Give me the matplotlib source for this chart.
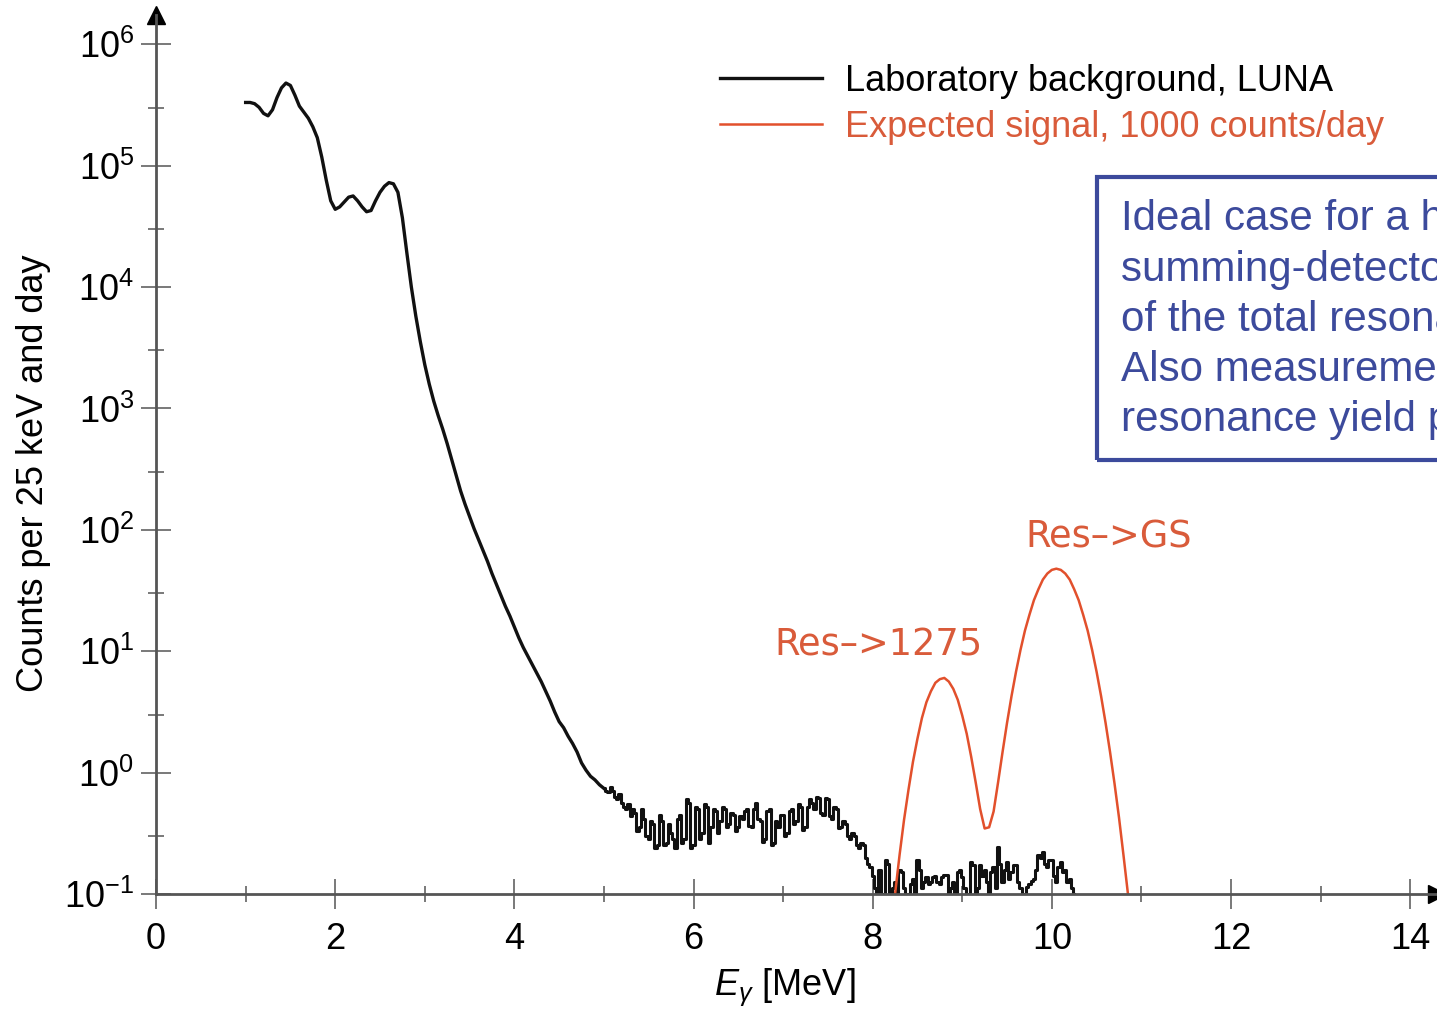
import numpy as np
import matplotlib
matplotlib.use('Agg')
import matplotlib.pyplot as plt
from matplotlib.patches import Rectangle
from matplotlib.ticker import FixedLocator, FuncFormatter

plt.rcParams['font.family'] = ['Liberation Sans', 'DejaVu Sans']
plt.rcParams['mathtext.fontset'] = 'custom'
plt.rcParams['mathtext.rm'] = 'Liberation Sans'
plt.rcParams['mathtext.it'] = 'Liberation Sans:italic'

# laboratory background, log10(counts), smooth part 1.00 .. 5.00 MeV, 50 keV steps
bg_smooth_start = 1.0
bg_smooth_step = 0.05
bg_log_smooth = [
    5.52, 5.52, 5.51, 5.48, 5.43, 5.41, 5.46, 5.56, 5.64, 5.68,
    5.66, 5.58, 5.49, 5.44, 5.39, 5.32, 5.23, 5.07, 4.88, 4.71,
    4.64, 4.66, 4.70, 4.74, 4.75, 4.71, 4.66, 4.62, 4.63, 4.71,
    4.78, 4.83, 4.86, 4.85, 4.78, 4.57, 4.28, 4.00, 3.76, 3.55,
    3.36, 3.20, 3.06, 2.94, 2.83, 2.71, 2.58, 2.45, 2.32, 2.21,
    2.11, 2.01, 1.92, 1.83, 1.74, 1.64, 1.55, 1.46, 1.37, 1.29,
    1.20, 1.11, 1.03, 0.96, 0.89, 0.82, 0.75, 0.67, 0.59, 0.50,
    0.42, 0.37, 0.30, 0.24, 0.17, 0.08, 0.02, -0.03, -0.06, -0.10,
    -0.13,
]

# noisy part 5.000 .. 10.250 MeV, 25 keV bins (-1 = empty bin)
bg_noisy_start = 5.0
bg_noisy_step = 0.025
bg_log_noisy = [
    -0.13, -0.15, -0.16, -0.12, -0.15, -0.20, -0.22, -0.18, -0.25, -0.28,
    -0.30, -0.26, -0.36, -0.30, -0.33, -0.48, -0.45, -0.30, -0.38, -0.52,
    -0.55, -0.40, -0.42, -0.62, -0.60, -0.35, -0.40, -0.60, -0.58, -0.42,
    -0.50, -0.55, -0.62, -0.38, -0.35, -0.58, -0.55, -0.22, -0.25, -0.62,
    -0.60, -0.28, -0.30, -0.55, -0.50, -0.26, -0.28, -0.58, -0.45, -0.30,
    -0.32, -0.50, -0.40, -0.28, -0.30, -0.45, -0.42, -0.33, -0.35, -0.48,
    -0.45, -0.36, -0.38, -0.32, -0.30, -0.44, -0.45, -0.30, -0.25, -0.38,
    -0.40, -0.57, -0.55, -0.32, -0.30, -0.60, -0.58, -0.40, -0.45, -0.35,
    -0.35, -0.52, -0.50, -0.32, -0.30, -0.42, -0.40, -0.26, -0.28, -0.47,
    -0.45, -0.28, -0.22, -0.25, -0.30, -0.20, -0.21, -0.33, -0.35, -0.21,
    -0.22, -0.36, -0.38, -0.28, -0.30, -0.46, -0.45, -0.40, -0.42, -0.52,
    -0.55, -0.50, -0.52, -0.60, -0.62, -0.58, -0.60, -0.70, -0.75, -0.78,
    -0.85, -0.95, -1.00, -0.80, -1.00, -1.00, -0.72, -0.75, -1.00, -0.95,
    -0.90, -1.00, -0.80, -0.82, -0.95, -1.00, -1.00, -0.92, -0.88, -1.00,
    -0.72, -0.80, -0.95, -0.90, -0.86, -0.92, -0.90, -0.86, -0.85, -0.90,
    -0.92, -0.86, -0.84, -0.84, -1.00, -0.95, -0.90, -1.00, -0.82, -0.80,
    -0.86, -0.95, -1.00, -1.00, -0.74, -0.76, -1.00, -0.95, -0.76, -0.85,
    -0.80, -0.90, -1.00, -0.82, -0.78, -0.95, -0.61, -0.75, -0.90, -0.80,
    -0.74, -0.88, -0.82, -0.76, -0.76, -0.90, -0.95, -1.00, -1.00, -0.94,
    -0.92, -0.89, -0.88, -0.80, -0.68, -0.70, -0.65, -0.75, -0.78, -0.72,
    -0.72, -0.85, -0.90, -0.78, -0.74, -0.82, -0.80, -0.90, -0.88, -0.95,
    -1.00,
]

# expected signal, log10(counts), 8.25 .. 10.85 MeV, 50 keV steps
sig_start = 8.25
sig_step = 0.05
sig_log = [
    -1.00, -0.68, -0.39, -0.14, 0.09, 0.28, 0.45, 0.58, 0.67, 0.74,
    0.77, 0.78, 0.75, 0.69, 0.60, 0.47, 0.32, 0.13, -0.08, -0.30,
    -0.46, -0.45, -0.32, -0.08, 0.17, 0.41, 0.63, 0.83, 1.01, 1.17,
    1.30, 1.42, 1.51, 1.59, 1.64, 1.67, 1.68, 1.67, 1.64, 1.59,
    1.51, 1.42, 1.30, 1.17, 1.01, 0.83, 0.63, 0.41, 0.17, -0.09,
    -0.37, -0.68, -1.00,
]

e_smooth = bg_smooth_start + bg_smooth_step * np.arange(len(bg_log_smooth))
e_noisy = bg_noisy_start + bg_noisy_step * np.arange(len(bg_log_noisy))
e_sig = sig_start + sig_step * np.arange(len(sig_log))

black = '#111111'
red = '#e2502c'
red_txt = '#d95b3a'
blue = '#3c4a9c'
axis_col = '#555555'

fig = plt.figure(figsize=(14.37, 10.17), dpi=100)
ax = fig.add_axes([0.1086, 0.1209, 0.8914, 0.8643])

h1, = ax.plot(e_smooth, 10 ** np.array(bg_log_smooth), color=black, lw=2.4,
              label='Laboratory background, LUNA')
ax.step(e_noisy, 10 ** np.array(bg_log_noisy), where='mid', color=black, lw=2.2)
h2, = ax.plot(e_sig, 10 ** np.array(sig_log), color=red, lw=1.8,
              label='Expected signal, 1000 counts/day')

ax.set_yscale('log')
ax.set_xlim(0, 14.3)
ax.set_ylim(0.1, 10 ** 6.24)

for s in ['top', 'right']:
    ax.spines[s].set_visible(False)
for s in ['left', 'bottom']:
    ax.spines[s].set_color(axis_col)
    ax.spines[s].set_linewidth(2)

ax.xaxis.set_major_locator(FixedLocator(np.arange(0, 15, 2)))
ax.xaxis.set_minor_locator(FixedLocator(np.arange(1, 15, 2)))
ax.yaxis.set_major_locator(FixedLocator([10.0 ** k for k in range(-1, 7)]))
ax.yaxis.set_minor_locator(FixedLocator([3 * 10.0 ** k for k in range(-1, 6)]))
ax.yaxis.set_major_formatter(FuncFormatter(
    lambda v, p: r'$\mathregular{10^{%d}}$' % round(np.log10(v))))
ax.yaxis.set_minor_formatter(FuncFormatter(lambda v, p: ''))

ax.tick_params(which='major', direction='inout', length=21.6, width=1.1,
               color=axis_col, labelsize=26)
ax.tick_params(axis='x', which='major', pad=9)
ax.tick_params(axis='y', which='major', pad=5)
ax.tick_params(which='minor', direction='inout', length=11.5, width=1.1,
               color=axis_col)

# axis arrows
ax.plot([0], [1], marker='^', ms=13, color='black', transform=ax.transAxes, clip_on=False)
ax.plot([1], [0], marker='>', ms=13, color='black', transform=ax.transAxes, clip_on=False)

ax.set_ylabel('Counts per 25 keV and day', fontsize=26)
ax.yaxis.set_label_coords(-0.082, 0.479)
ax.set_xlabel(r'$\mathit{E}_{\gamma}$ [MeV]', fontsize=26)
ax.xaxis.set_label_coords(0.491, -0.083)

leg = ax.legend(handles=[h1, h2], loc='upper left',
                bbox_to_anchor=(720 / 1437, 1 - 64 / 1017), bbox_transform=fig.transFigure,
                frameon=False, fontsize=26, handlelength=2.83, handletextpad=0.64,
                labelspacing=0.3, borderpad=0, borderaxespad=0)
leg.get_texts()[1].set_color(red_txt)

ax.text(8.06, 10 ** 1.05, 'Res\u2013>1275', family='DejaVu Sans', fontsize=26.5,
        color=red_txt, ha='center', va='center')
ax.text(10.63, 10 ** 1.94, 'Res\u2013>GS', family='DejaVu Sans', fontsize=26.5,
        color=red_txt, ha='center', va='center')

fig.add_artist(Rectangle((0.7634, 0.5477), 0.4, 0.2783, transform=fig.transFigure,
                         fill=False, edgecolor=blue, lw=3))
fig.text(0.780, 0.804,
         'Ideal case for a high-efficiency\nsumming-detector: measurement\n'
         'of the total resonance strength.\nAlso measurement of the\n'
         'resonance yield profile.',
         color=blue, fontsize=30.3, ha='left', va='top', linespacing=1.33)

fig.savefig('out.png', dpi=100)
